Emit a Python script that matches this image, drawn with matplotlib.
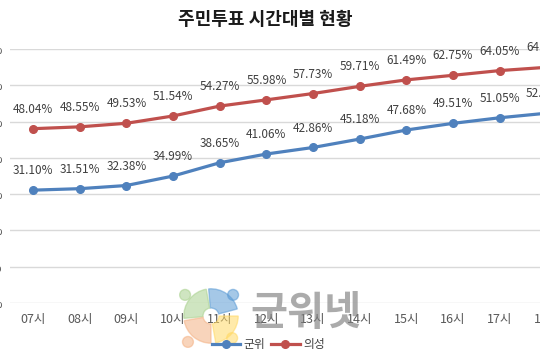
import matplotlib
matplotlib.use("Agg")
import matplotlib.pyplot as plt
from matplotlib.patches import Wedge, Circle

plt.rcParams['font.family'] = ['Noto Sans CJK KR', 'DejaVu Sans']

# Data
hours = ["07시", "08시", "09시", "10시", "11시", "12시", "13시", "14시", "15시", "16시", "17시", "18시"]
gunwi = [31.10, 31.51, 32.38, 34.99, 38.65, 41.06, 42.86, 45.18, 47.68, 49.51, 51.05, 52.30]
uiseong = [48.04, 48.55, 49.53, 51.54, 54.27, 55.98, 57.73, 59.71, 61.49, 62.75, 64.05, 64.95]
yticks = [0, 10, 20, 30, 40, 50, 60, 70]

blue = "#4f81bd"
red = "#c0504d"

fig = plt.figure(figsize=(5.4, 3.6), dpi=100)
ax = fig.add_axes([0.018, 0.1583, 1.037, 0.7056])

x = list(range(len(hours)))
ax.plot(x, gunwi, color=blue, lw=2.3, marker='o', ms=5.5, label="군위", zorder=3)
ax.plot(x, uiseong, color=red, lw=2.3, marker='o', ms=5.5, label="의성", zorder=3)

for xi, v in zip(x, gunwi):
    ax.annotate(f"{v:.2f}%", (xi, v), xytext=(0, 14), textcoords='offset points',
                ha='center', va='center', fontsize=8.5, color='#404040')
for xi, v in zip(x, uiseong):
    ax.annotate(f"{v:.2f}%", (xi, v), xytext=(0, 14), textcoords='offset points',
                ha='center', va='center', fontsize=8.5, color='#404040')

ax.set_xlim(-0.5, len(hours) - 0.5)
ax.set_ylim(0, 70)
ax.set_xticks(x)
ax.set_xticklabels(hours)
ax.set_yticks(yticks)
ax.set_yticklabels([f"{t}%" for t in yticks])
ax.tick_params(axis='x', length=0, pad=7, labelsize=9, labelcolor='#595959')
ax.tick_params(axis='y', length=0, pad=5, labelsize=9, labelcolor='#595959')
ax.grid(axis='y', color='#d9d9d9', lw=1)
ax.set_axisbelow(True)
for s in ax.spines.values():
    s.set_visible(False)

fig.text(0.492, 0.947, "주민투표 시간대별 현황", ha='center', va='center',
         fontsize=13, fontweight='bold', color='#1a1a1a')

fig.legend(loc='center', bbox_to_anchor=(0.497, 0.042), ncol=2, frameon=False,
           fontsize=8.5, handlelength=2.4, handletextpad=0.3, columnspacing=0.5,
           labelcolor='#404040')

# watermark logo
lax = fig.add_axes([179 / 540, 1 - 348 / 360, 64 / 540, 64 / 360])
lax.set_xlim(-1, 1)
lax.set_ylim(-1, 1)
lax.set_aspect('equal')
lax.axis('off')
petals = [(15, 95, "#5b9bd5"), (100, 185, "#a9d18e"), (190, 270, "#f4b183"), (280, 360, "#ffd966")]
for t1, t2, c in petals:
    lax.add_patch(Wedge((0, 0), 0.85, t1, t2, width=0.6, color=c, alpha=0.55))
for cx, cy, c in [(0.69, 0.66, "#5b9bd5"), (-0.81, 0.66, "#a9d18e"),
                  (-0.72, -0.81, "#f4b183"), (0.66, -0.69, "#ffd966")]:
    lax.add_patch(Circle((cx, cy), 0.17, color=c, alpha=0.55))

fig.text(0.567, 0.13, "군위넷", ha='center', va='center', fontsize=29,
         fontweight='bold', color='#7f7f7f', alpha=0.65)

fig.savefig("out.png", dpi=100)
